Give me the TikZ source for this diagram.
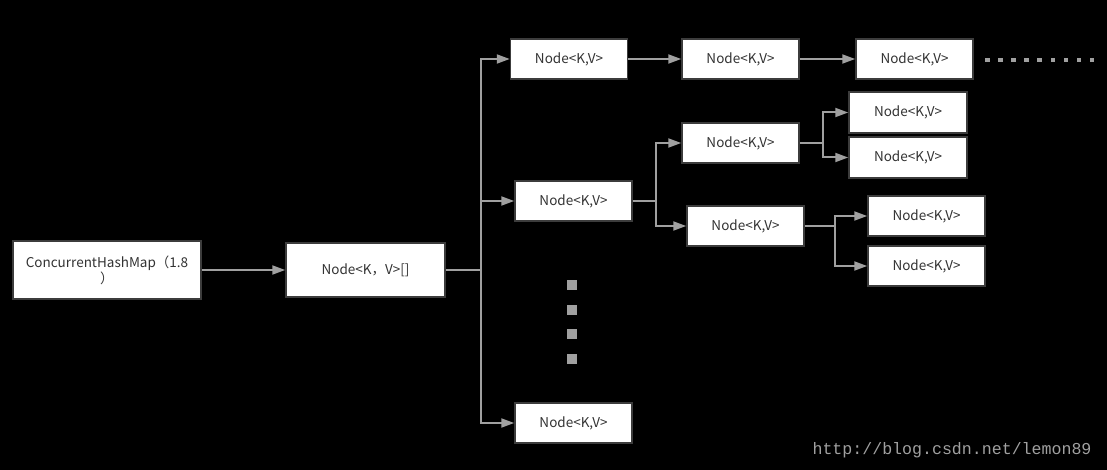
\documentclass[tikz,border=0pt]{standalone}
\usepackage{fontspec}
\setmainfont{Noto Sans CJK SC}
\newfontfamily\markfont{Liberation Mono}
\usetikzlibrary{arrows.meta}
\definecolor{linegray}{HTML}{A0A0A0}
\definecolor{boxedge}{HTML}{3C3C3C}
\definecolor{textgray}{HTML}{333333}

\begin{document}
\begin{tikzpicture}[x=1pt,y=-1pt,
    box/.style={draw=boxedge,line width=1.5pt,fill=white,text=textgray,
      font=\fontsize{13.5}{16}\selectfont,inner sep=0pt,
      minimum width=117pt,minimum height=40pt,align=center},
    link/.style={draw=linegray,line width=2pt},
    arr/.style={link,-{Triangle[length=13pt,width=9pt]}}]

      % background, same size as the picture
      \fill[black] (0,0) rectangle (1107,470);
      \useasboundingbox (0,0) rectangle (1107,470);

      % the map and its table
      \node[box,minimum width=188pt,minimum height=58pt] (chm) at (107,270)
        {ConcurrentHashMap（1.8\\）};
      \node[box,minimum width=159pt,minimum height=54pt] (tab) at (365.5,270)
        {Node<K，V>[]};

      % first bin: a list
      \node[box] (a1) at (569,59) {Node<K,V>};
      \node[box] (a2) at (740.5,59) {Node<K,V>};
      \node[box] (a3) at (914.5,59) {Node<K,V>};

      % second bin: a tree
      \node[box] (b1) at (573.5,201) {Node<K,V>};
      \node[box] (b2) at (740.5,143) {Node<K,V>};
      \node[box] (b3) at (745.5,226) {Node<K,V>};
      \node[box,minimum width=118pt,minimum height=41pt] (c1) at (908,112.5) {Node<K,V>};
      \node[box,minimum width=118pt,minimum height=41pt] (c2) at (908,157.5) {Node<K,V>};
      \node[box] (d1) at (926.5,216) {Node<K,V>};
      \node[box] (d2) at (926.5,266) {Node<K,V>};

      % last bin
      \node[box] (last) at (573.5,423) {Node<K,V>};

      % branching points
      \coordinate (trunk) at (481,270);
      \coordinate (fork1) at (656,201);
      \coordinate (fork2) at (823,143);
      \coordinate (fork3) at (835,226);

      \draw[arr] (chm) -- (tab);
      \draw[link] (tab.east) -- (trunk);
      \draw[arr] (trunk) |- (a1);
      \draw[arr] (trunk) |- (b1);
      \draw[arr] (trunk) |- (last);

      \draw[arr] (a1) -- (a2);
      \draw[arr] (a2) -- (a3);

      \draw[link] (b1.east) -- (fork1);
      \draw[arr] (fork1) |- (b2);
      \draw[arr] (fork1) |- (b3);
      \draw[link] (b2.east) -- (fork2);
      \draw[arr] (fork2) |- (c1);
      \draw[arr] (fork2) |- (c2);
      \draw[link] (b3.east) -- (fork3);
      \draw[arr] (fork3) |- (d1);
      \draw[arr] (fork3) |- (d2);

      % more nodes to the right, more bins below
      \foreach \i in {0,...,8}
        \fill[linegray] ({985+\i*13.1},58) rectangle +(4.5,4.5);
      \foreach \j in {0,...,3}
        \fill[linegray] (567,{280+\j*24.5}) rectangle +(10,10);

      % watermark
      \node[text=linegray,font=\markfont\fontsize{16.6}{18}\selectfont,anchor=east]
        (mark) at (1095,450) {http://blog.csdn.net/lemon89};

    \end{tikzpicture}
\end{document}
